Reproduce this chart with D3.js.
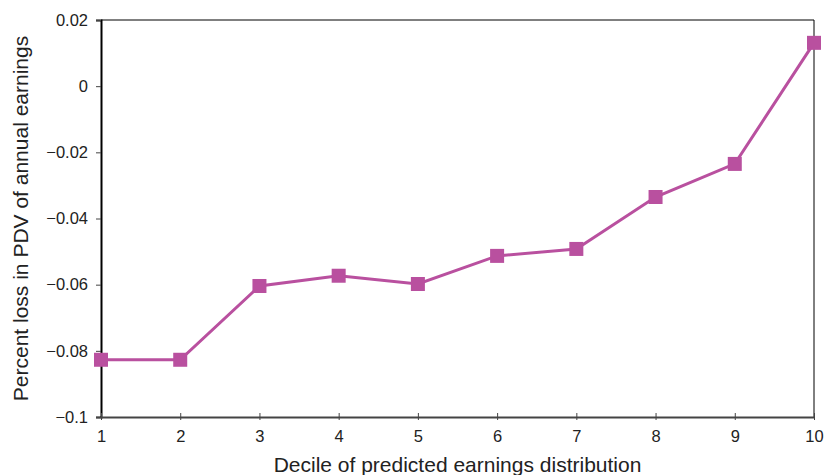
<!DOCTYPE html>
<html>
<head>
<meta charset="utf-8">
<script src="https://cdn.jsdelivr.net/npm/d3@7"></script>
<style>
  html, body { margin: 0; padding: 0; background: #fff; }
  text { font-family: "Liberation Sans", Arial, Helvetica, sans-serif; fill: #222; }
</style>
</head>
<body>
<svg id="chart" width="828" height="475"></svg>
<script>
// Earnings loss by decile of predicted earnings
const deciles = [1, 2, 3, 4, 5, 6, 7, 8, 9, 10];
const pctLoss = [-0.0827, -0.0827, -0.0604, -0.0573, -0.0598, -0.0513, -0.0492, -0.0335, -0.0235, 0.0131];
const yTicks = [0.02, 0, -0.02, -0.04, -0.06, -0.08, -0.1];
const xLabel = "Decile of predicted earnings distribution";
const yLabel = "Percent loss in PDV of annual earnings";

const svg = d3.select("#chart");
const margin = { left: 101, right: 14, top: 20, bottom: 58 };
const W = 828, H = 475;

const x = d3.scaleLinear().domain([1, 10]).range([margin.left, W - margin.right]);
const y = d3.scaleLinear().domain([-0.1, 0.02]).range([H - margin.bottom, margin.top]);

const fmt = v => v === 0 ? "0" : (v < 0 ? "\u2212" + Math.abs(v) : String(v));

// frame: top and right thin borders
svg.append("line").attr("x1", x(1)).attr("x2", x(10)).attr("y1", y(0.02)).attr("y2", y(0.02))
  .attr("stroke", "#000").attr("stroke-width", 1);
svg.append("line").attr("x1", x(10)).attr("x2", x(10)).attr("y1", y(0.02)).attr("y2", y(-0.1))
  .attr("stroke", "#000").attr("stroke-width", 1);

// y axis
const yAxis = svg.append("g").attr("transform", `translate(${x(1)},0)`)
  .call(d3.axisLeft(y).tickValues(yTicks).tickFormat(fmt).tickSize(5).tickPadding(8));
yAxis.select(".domain").attr("stroke", "#000").attr("stroke-width", 2);
yAxis.selectAll(".tick line").attr("stroke", "#444");
yAxis.selectAll("text").style("font-size", "16.5px").attr("fill", "#222");

// x axis
const xAxis = svg.append("g").attr("transform", `translate(0,${y(-0.1)})`)
  .call(d3.axisBottom(x).tickValues(deciles).tickFormat(d3.format("d")).tickSizeInner(-5).tickSizeOuter(0).tickPadding(13));
xAxis.select(".domain").attr("stroke", "#444").attr("stroke-width", 2);
xAxis.selectAll(".tick line").attr("stroke", "#444").attr("y2", -4).attr("y1", 3);
xAxis.selectAll("text").style("font-size", "16.5px").attr("fill", "#222");

// axis titles
svg.append("text").attr("x", (x(1) + x(10)) / 2).attr("y", 472)
  .attr("text-anchor", "middle").style("font-size", "21px").text(xLabel);
svg.append("text").attr("transform", `translate(28,${(y(0.02) + y(-0.1)) / 2}) rotate(-90)`)
  .attr("text-anchor", "middle").style("font-size", "21px").text(yLabel);

// series line and square markers
const color = "#b9509f";
const pts = deciles.map((d, i) => [d, pctLoss[i]]);
svg.append("path").datum(pts)
  .attr("fill", "none").attr("stroke", color).attr("stroke-width", 3)
  .attr("d", d3.line().x(d => x(d[0])).y(d => y(d[1])));
const s = 14;
svg.selectAll("rect.mk").data(pts).enter().append("rect").attr("class", "mk")
  .attr("x", d => x(d[0]) - s / 2).attr("y", d => y(d[1]) - s / 2)
  .attr("width", s).attr("height", s).attr("fill", color);
</script>
</body>
</html>
